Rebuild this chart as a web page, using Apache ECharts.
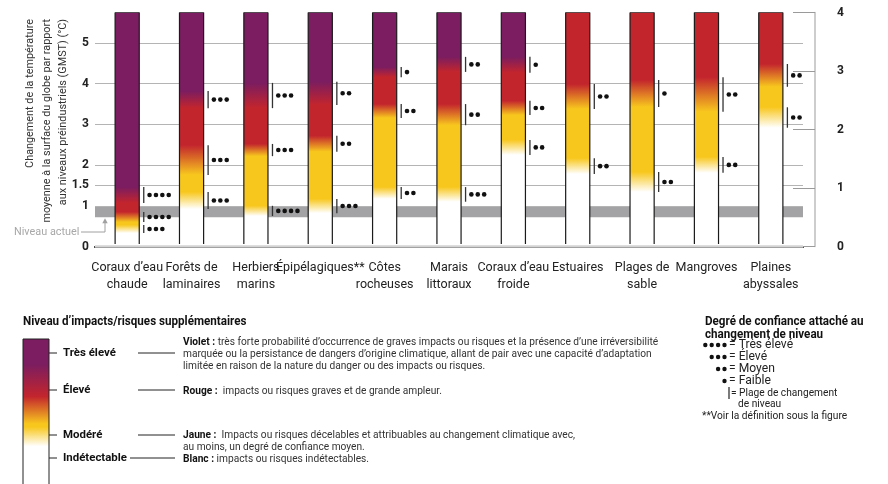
<!DOCTYPE html>
<html><head><meta charset="utf-8">
<script src="https://cdn.jsdelivr.net/npm/echarts@6/dist/echarts.min.js"></script>
<style>html,body{margin:0;padding:0;background:#fff}#c{width:888px;height:484px}</style>
</head><body><div id="c"></div>
<script>
// ---------- data ----------
const categories = ['Coraux d’eau\nchaude','Forêts de\nlaminaires','Herbiers\nmarins','Épipélagiques**','Côtes\nrocheuses','Marais\nlittoraux','Coraux d’eau\nfroide','Estuaires','Plages de\nsable','Mangroves','Plaines\nabyssales'];
// axis of each ember: 0 = left GMST axis, 1 = right axis
const emberAxis = [0,0,0,0,0,0,0,0,0,0,1];
// transition ranges (°C)
const whiteToYellow = [[0.33,0.53],[0.92,1.34],[0.75,1.0],[0.82,1.17],[1.17,1.46],[1.1,1.46],[2.25,2.62],[1.78,2.17],[1.34,1.83],[1.81,2.2],[2.03,2.38]];
const yellowToRed   = [[0.6,0.85],[1.76,2.49],[2.22,2.52],[2.33,2.72],[3.16,3.5],[2.98,3.5],[3.23,3.58],[3.38,3.99],[3.43,4.09],[3.31,4.16],[2.73,3.12]];
const redToPurple   = [[1.07,1.46],[3.4,3.82],[3.4,4.02],[3.48,4.05],[4.16,4.41],[4.29,4.66],[4.27,4.66],null,null,null,null];
// confidence (number of dots)
const confWY = [3,3,4,3,2,3,2,2,2,2,2];
const confYR = [4,3,3,2,2,2,2,2,1,2,2];
const confRP = [4,3,3,2,1,2,1,0,0,0,0];
const gmstTicks = [0,1,1.5,2,3,4,5];
const gridLines = [1,1.5,2,3,4,5];
const currentLevel = [0.72,0.97];

// ---------- style ----------
const F = 'Roboto, "DejaVu Sans", sans-serif';
const levelColors = ['#ffffff','#f8c71e','#c3252d','#7b1d60'];

// condense factor so graphic texts mimic the narrow font of the original
const mctx = document.createElement('canvas').getContext('2d');
mctx.font = '10.5px ' + F;
const SX = Math.min(1, 474 / mctx.measureText('Violet : très forte probabilité d’occurrence de graves impacts ou risques et la présence d’une irréversibilité').width);

const chart = echarts.init(document.getElementById('c'), null, {renderer:'canvas'});

function renderEmber(params, api) {
  const i = api.value(0);
  const cs = params.coordSys;
  const base = api.coord([i, 0]);
  const bw = api.size([1, 0])[0] * 0.375;
  const x0 = base[0] - bw / 2;
  const yb = base[1] - 2.5;
  const yt = cs.y;
  const h = yb - yt;
  const py = v => api.coord([i, v])[1];
  const off = v => Math.min(1, Math.max(0, (yb - py(v)) / h));
  const trans = [whiteToYellow[i], yellowToRed[i], redToPurple[i]];
  const conf = [confWY[i], confYR[i], confRP[i]];
  const stops = [{offset:0, color:levelColors[0]}];
  let last = 0;
  trans.forEach((t, k) => {
    if (!t) return;
    stops.push({offset:off(t[0]), color:levelColors[k]});
    stops.push({offset:off(t[1]), color:levelColors[k+1]});
    last = k + 1;
  });
  stops.push({offset:1, color:levelColors[last]});
  const children = [
    {type:'rect', shape:{x:x0, y:yt, width:bw, height:h}, style:{fill:new echarts.graphic.LinearGradient(0,1,0,0,stops)}},
    {type:'line', shape:{x1:x0, y1:yt, x2:x0, y2:yb}, style:{stroke:'#1a1a1a', lineWidth:1.2}},
    {type:'line', shape:{x1:x0+bw, y1:yt, x2:x0+bw, y2:yb}, style:{stroke:'#1a1a1a', lineWidth:1.2}},
    {type:'line', shape:{x1:x0, y1:yt, x2:x0+bw, y2:yt}, style:{stroke:'#3a3a3a', lineWidth:0.8}}
  ];
  trans.forEach((t, k) => {
    if (!t) return;
    const ya = py(t[0]), yz = py(t[1]);
    const lx = x0 + bw + 4.5;
    children.push({type:'line', shape:{x1:lx, y1:ya, x2:lx, y2:yz}, style:{stroke:'#333', lineWidth:1.3}});
    const ym = (ya + yz) / 2;
    for (let d = 0; d < conf[k]; d++) {
      children.push({type:'circle', shape:{cx:lx + 5.8 + d * 6.4, cy:ym, r:2.3}, style:{fill:'#111'}});
    }
  });
  return {type:'group', children};
}

const leftData = [], rightData = [];
categories.forEach((c, i) => (emberAxis[i] === 0 ? leftData : rightData).push([i, 0]));

const option = {
  animation: false,
  backgroundColor: '#fff',
  textStyle: {fontFamily: F},
  grid: {left: 95, right: 85, top: 12.5, bottom: 237.5, containLabel: false, outerBoundsMode: 'none'},
  xAxis: {
    type: 'category', data: categories, boundaryGap: true, offset: 6,
    axisLine: {show: true, lineStyle: {color: '#111', width: 2}},
    axisTick: {show: false},
    axisLabel: {interval: 0, fontFamily: F, fontSize: 12.5, lineHeight: 17, color: '#222', margin: 7, verticalAlign: 'top'},
    splitLine: {show: false}
  },
  yAxis: [
    {
      type: 'value', min: 0, max: 5.75, interval: 0.5,
      axisLine: {show: false}, axisTick: {show: false}, splitLine: {show: false},
      axisLabel: {fontFamily: F, fontSize: 12, fontWeight: 'bold', color: '#222', margin: 6,
        formatter: v => gmstTicks.some(t => Math.abs(t - v) < 1e-6) ? String(v) : ''}
    },
    {
      type: 'value', min: 0, max: 4, interval: 1, position: 'right', offset: 12,
      axisLine: {show: true, lineStyle: {color: '#bdbdbd', width: 1.5}},
      axisTick: {show: true, inside: true, length: 22, lineStyle: {color: '#9a9a9a', width: 1}},
      splitLine: {show: false},
      axisLabel: {fontFamily: F, fontSize: 12, fontWeight: 'bold', color: '#222', margin: 22}
    }
  ],
  series: [
    {
      type: 'line', data: categories.map(() => '-'), z: 1, silent: true, showSymbol: false,
      markArea: {silent: true, itemStyle: {color: '#a3a3a6'}, data: [[{yAxis: currentLevel[0]}, {yAxis: currentLevel[1]}]]},
      markLine: {silent: true, symbol: ['none','none'], label: {show: false},
        lineStyle: {color: '#b4b4b4', width: 1, type: 'solid'},
        data: gridLines.map(v => ({yAxis: v})).concat([{yAxis: 0, lineStyle: {color: '#d3d3d3', width: 2.5, type: 'solid'}}])}
    },
    {type: 'custom', renderItem: renderEmber, data: leftData, encode: {x: 0, y: 1}, yAxisIndex: 0, z: 5, clip: false},
    {type: 'custom', renderItem: renderEmber, data: rightData, encode: {x: 0, y: 1}, yAxisIndex: 1, z: 5, clip: false}
  ]
};
chart.setOption(option);

// ---------- annotations & legend ----------
const tipY = chart.convertToPixel({yAxisIndex: 0}, currentLevel[0]) + 1;
function T(x, y, text, size, extra) {
  return {type: 'text', x, y, scaleX: SX, silent: true, z: 10,
    style: Object.assign({text, fontFamily: F, fontSize: size, fill: '#222', verticalAlign: 'middle', align: 'left'}, extra || {})};
}
function L(x1, y1, x2, y2, color, w) {
  return {type: 'line', silent: true, z: 10, shape: {x1, y1, x2, y2}, style: {stroke: color || '#222', lineWidth: w || 1}};
}
const g = [];
// y axis title (rotated; scaleX condenses along the text direction)
g.push({type: 'text', x: 47, y: 19, rotation: Math.PI / 2, scaleX: SX, silent: true,
  style: {text: 'Changement de la température\nmoyenne à la surface du globe par rapport\naux niveaux préindustriels (GMST) (°C)',
    fontFamily: F, fontSize: 11.2, lineHeight: 16.5, fill: '#333', align: 'right', verticalAlign: 'middle'}});
// Niveau actuel
g.push(T(14, 232, 'Niveau actuel', 11.2, {fill: '#a8a8a8'}));
g.push({type: 'polyline', silent: true, shape: {points: [[81, 232], [105, 232], [105, tipY + 4]]}, style: {stroke: '#a0a0a0', lineWidth: 1, fill: null}});
g.push({type: 'polygon', silent: true, shape: {points: [[102.3, tipY + 5], [107.7, tipY + 5], [105, tipY]]}, style: {fill: '#a0a0a0'}});

// level legend
g.push(T(23, 322, 'Niveau d’impacts/risques supplémentaires', 12, {fontWeight: 'bold', fill: '#111'}));
g.push({type: 'rect', silent: true, shape: {x: 23, y: 339, width: 26, height: 160},
  style: {stroke: '#222', lineWidth: 1, fill: new echarts.graphic.LinearGradient(0, 0, 0, 1, [
    {offset: 0, color: levelColors[3]}, {offset: 0.16, color: levelColors[3]},
    {offset: 0.36, color: levelColors[2]}, {offset: 0.53, color: levelColors[1]},
    {offset: 0.55, color: levelColors[1]}, {offset: 0.67, color: levelColors[0]}, {offset: 1, color: levelColors[0]}])}});
const lv = [['Très élevé', 353, 138], ['Élevé', 390, 138], ['Modéré', 435, 138], ['Indétectable', 458, 130]];
lv.forEach(([t, y, x1]) => {
  g.push(L(49, y, 57, y));
  g.push(T(63, y, t, 11.8, {fontWeight: 'bold', fill: '#111'}));
  g.push(L(x1, y, 175, y));
});
const rich = {b: {fontFamily: F, fontSize: 10.5, fontWeight: 'bold', fill: '#111'}};
const D = (y, text) => g.push(T(183, y, text, 10.5, {rich, fill: '#333'}));
D(342, '{b|Violet :} très forte probabilité d’occurrence de graves impacts ou risques et la présence d’une irréversibilité');
D(354, 'marquée ou la persistance de dangers d’origine climatique, allant de pair avec une capacité d’adaptation');
D(366, 'limitée en raison de la nature du danger ou des impacts ou risques.');
D(391, '{b|Rouge :}  impacts ou risques graves et de grande ampleur.');
D(435, '{b|Jaune :}  Impacts ou risques décelables et attribuables au changement climatique avec,');
D(447, 'au moins, un degré de confiance moyen.');
D(459, '{b|Blanc :} impacts ou risques indétectables.');

// confidence legend
g.push(T(705, 322, 'Degré de confiance attaché au', 12, {fontWeight: 'bold', fill: '#111'}));
g.push(T(705, 335, 'changement de niveau', 12, {fontWeight: 'bold', fill: '#111'}));
const confLegend = [[4, 'Très élevé', 345], [3, 'Élevé', 357], [2, 'Moyen', 369], [1, 'Faible', 381]];
confLegend.forEach(([n, t, y]) => {
  for (let d = 0; d < n; d++) g.push({type: 'circle', silent: true, shape: {cx: 724.5 - d * 6.4, cy: y, r: 2.2}, style: {fill: '#111'}});
  g.push(T(729, y, '= ' + t, 12.5, {fill: '#222'}));
});
g.push(L(729, 387, 729, 399, '#222', 1.2));
g.push(T(731, 393, '= Plage de changement', 10.5, {fill: '#222'}));
g.push(T(738, 404, 'de niveau', 10.5, {fill: '#222'}));
g.push(T(702, 416, '**Voir la définition sous la figure', 10.5, {fill: '#222'}));

chart.setOption({graphic: {elements: g}});
</script>
</body></html>
